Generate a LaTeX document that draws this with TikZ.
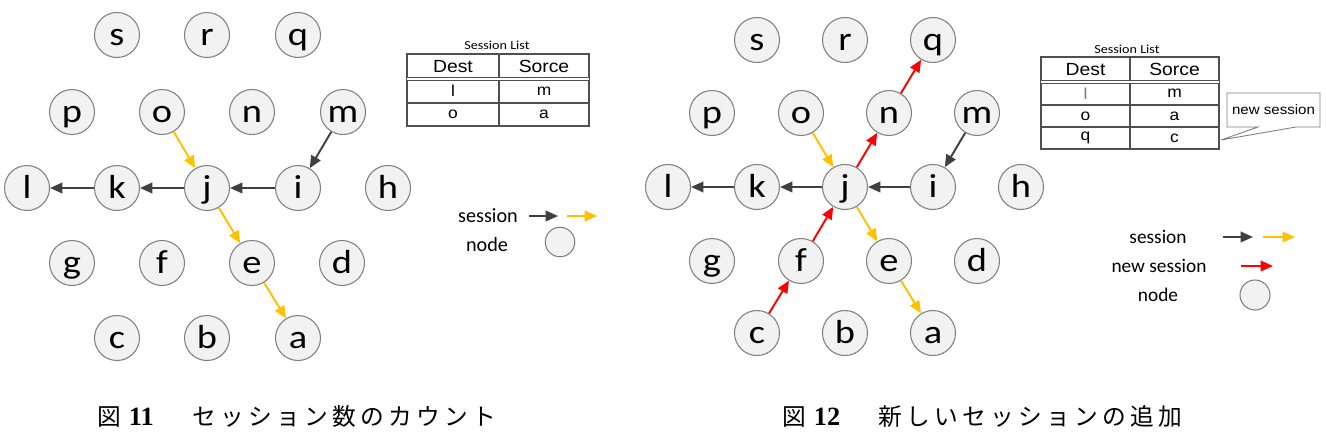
\documentclass[tikz,border=0pt]{standalone}
\usepackage{fontspec}
\usepackage{xcolor}
\usepackage{tikz}
\usetikzlibrary{arrows.meta}
\newfontfamily\nodefont[FakeStretch=1.15]{Carlito}
\newfontfamily\keyfont{Carlito}
\newfontfamily\tabfont[FakeStretch=1.1]{Liberation Sans}
\newfontfamily\capfont[LetterSpace=18]{Noto Sans CJK JP}
\newfontfamily\numfont{Liberation Serif}
\definecolor{sesgray}{HTML}{404040}
\definecolor{sesgold}{HTML}{FFC000}
\definecolor{newred}{HTML}{FF0000}
\definecolor{nodefill}{HTML}{F2F2F2}
\definecolor{nodeline}{HTML}{7F7F7F}
\definecolor{tabline}{HTML}{505050}
\definecolor{rowblue}{HTML}{5B7FA6}
\tikzset{
  pnode/.style={circle, draw=nodeline, fill=nodefill, line width=0.6pt,
    minimum size=0.9cm, inner sep=0pt, text height=14pt, text depth=2.4pt,
    font=\nodefont\fontsize{19}{21}\selectfont},
  keynode/.style={circle, draw=nodeline, fill=nodefill, line width=0.6pt,
    minimum size=0.59cm, inner sep=0pt},
  sess/.style={-{Triangle[length=7pt,width=6pt]}, line width=1.1pt, draw=sesgray},
  oldsess/.style={sess, draw=sesgold},
  newsess/.style={sess, draw=newred},
  tab/.style={draw=tabline, line width=0.6pt},
  cell/.style={inner sep=0pt, font=\tabfont\fontsize{9}{10}\selectfont},
  head/.style={cell, font=\tabfont\fontsize{10}{11}\selectfont},
  title/.style={inner sep=0pt, font=\nodefont\fontsize{7}{8}\selectfont},
  keytext/.style={inner sep=0pt, font=\keyfont\fontsize{11.5}{13}\selectfont},
  capnode/.style={inner sep=0pt, anchor=west, font=\capfont\fontsize{13.5}{16}\selectfont}
}
\begin{document}
\begin{tikzpicture}[x=0.02cm, y=-0.02cm]
  \useasboundingbox (0,0) rectangle (1326,434);
  % ---- Figure 11 ----
  \begin{scope}
    \node[pnode] (s1) at (117,35) {s};
    \node[pnode] (r1) at (207,35) {r};
    \node[pnode] (q1) at (298,35) {q};
    \node[pnode] (p1) at (72,112) {p};
    \node[pnode] (o1) at (162,112) {o};
    \node[pnode] (n1) at (252,112) {n};
    \node[pnode] (m1) at (343,112) {m};
    \node[pnode] (l1) at (27,188) {l};
    \node[pnode] (k1) at (117,188) {k};
    \node[pnode] (j1) at (207,188) {j};
    \node[pnode] (i1) at (298,188) {i};
    \node[pnode] (h1) at (388,188) {h};
    \node[pnode] (g1) at (72,263) {g};
    \node[pnode] (f1) at (162,263) {f};
    \node[pnode] (e1) at (252,263) {e};
    \node[pnode] (d1) at (342,263) {d};
    \node[pnode] (c1) at (117,338) {c};
    \node[pnode] (b1) at (207,338) {b};
    \node[pnode] (a1) at (298,338) {a};
    % sessions
    \draw[sess] (m1) -- (i1);
    \draw[sess] (i1) -- (j1);
    \draw[sess] (j1) -- (k1);
    \draw[sess] (k1) -- (l1);
    \draw[oldsess] (o1) -- (j1);
    \draw[oldsess] (j1) -- (e1);
    \draw[oldsess] (e1) -- (a1);
    % session list
    \node[title] (list1) at (497,45) {Session List};
    \draw[tab] (407,54) rectangle (589,126);
    \draw[tab] (499,54) -- (499,126);
    \draw[tab] (407,103) -- (589,103);
    \draw[tab, line width=0.8pt, double, double distance=1pt] (407,79) -- (589,79);
    \node[head] (dest1) at (453,66.5) {Dest};
    \node[head] (sorce1) at (544,66.5) {Sorce};
    \node[cell] (d11) at (453,91) {l};
    \node[cell] (s11) at (544,91) {m};
    \node[cell] (d12) at (453,114.5) {o};
    \node[cell] (s12) at (544,114.5) {a};
    % legend
    \node[keytext] (seskey1) at (488,216) {session};
    \coordinate (ka1) at (529,216);
    \coordinate (kb1) at (558,216);
    \coordinate (kc1) at (567,216);
    \coordinate (kd1) at (597,216);
    \draw[sess] (ka1) -- (kb1);
    \draw[oldsess] (kc1) -- (kd1);
    \node[keytext] (nodekey1) at (487,245) {node};
    \node[keynode] (keycirc1) at (560,242) {};
    \node[capnode] (cap1) at (97,416) {図\hspace{4.5pt}{\numfont\bfseries\fontsize{15}{16}\selectfont 11}\hspace{22pt}セッション数のカウント};
  \end{scope}
  % ---- Figure 12 ----
  \begin{scope}
    \node[pnode] (s2) at (757,40) {s};
    \node[pnode] (r2) at (845,40) {r};
    \node[pnode] (q2) at (933,40) {q};
    \node[pnode] (p2) at (712,113) {p};
    \node[pnode] (o2) at (801,113) {o};
    \node[pnode] (n2) at (889,113) {n};
    \node[pnode] (m2) at (977,113) {m};
    \node[pnode] (l2) at (668,187) {l};
    \node[pnode] (k2) at (757,187) {k};
    \node[pnode] (j2) at (845,187) {j};
    \node[pnode] (i2) at (933,187) {i};
    \node[pnode] (h2) at (1021,187) {h};
    \node[pnode] (g2) at (712,261) {g};
    \node[pnode] (f2) at (801,261) {f};
    \node[pnode] (e2) at (889,261) {e};
    \node[pnode] (d2) at (977,261) {d};
    \node[pnode] (c2) at (757,333) {c};
    \node[pnode] (b2) at (845,333) {b};
    \node[pnode] (a2) at (933,333) {a};
    % sessions
    \draw[sess] (m2) -- (i2);
    \draw[sess] (i2) -- (j2);
    \draw[sess] (j2) -- (k2);
    \draw[sess] (k2) -- (l2);
    \draw[oldsess] (o2) -- (j2);
    \draw[oldsess] (j2) -- (e2);
    \draw[oldsess] (e2) -- (a2);
    % new session c -> q
    \draw[newsess] (c2) -- (f2);
    \draw[newsess] (f2) -- (j2);
    \draw[newsess] (j2) -- (n2);
    \draw[newsess] (n2) -- (q2);
    % session list
    \node[title] (list2) at (1127,49) {Session List};
    \draw[tab] (1041,57) rectangle (1219,149);
    \draw[tab] (1130,57) -- (1130,149);
    \draw[tab] (1041,105) -- (1219,105);
    \draw[tab] (1041,127) -- (1219,127);
    \draw[tab, line width=0.8pt, double, double distance=1pt] (1041,82) -- (1219,82);
    \node[head] (dest2) at (1085.5,69.5) {Dest};
    \node[head] (sorce2) at (1174.5,69.5) {Sorce};
    \node[cell, text=rowblue] (d21) at (1085.5,93.5) {l};
    \node[cell] (s21) at (1174.5,93.5) {m};
    \node[cell] (d22) at (1085.5,116) {o};
    \node[cell] (s22) at (1174.5,116) {a};
    \node[cell] (d23) at (1085.5,138) {q};
    \node[cell] (s23) at (1174.5,138) {c};
    % callout
    \draw[draw=nodeline, line width=0.5pt, fill=white]
      (1227,93) -- (1320,93) -- (1320,127) -- (1296,127) -- (1221,140)
      -- (1258,127) -- (1227,127) -- cycle;
    \node[cell, font=\tabfont\fontsize{7.8}{9}\selectfont] (newtag) at (1273.5,110) {new session};
    % legend
    \node[keytext, font=\keyfont\fontsize{11}{13}\selectfont] (seskey2) at (1158,237) {session};
    \coordinate (ka2) at (1223,237);
    \coordinate (kb2) at (1253,237);
    \coordinate (kc2) at (1263,237);
    \coordinate (kd2) at (1295,237);
    \draw[sess] (ka2) -- (kb2);
    \draw[oldsess] (kc2) -- (kd2);
    \node[keytext, font=\keyfont\fontsize{11}{13}\selectfont] (newkey2) at (1159,266) {new session};
    \coordinate (ke2) at (1241,266);
    \coordinate (kf2) at (1273,266);
    \draw[newsess] (ke2) -- (kf2);
    \node[keytext, font=\keyfont\fontsize{11}{13}\selectfont] (nodekey2) at (1158,295) {node};
    \node[keynode, minimum size=0.6cm] (keycirc2) at (1255,295) {};
    \node[capnode] (cap2) at (782,416) {図\hspace{4.5pt}{\numfont\bfseries\fontsize{15}{16}\selectfont 12}\hspace{22pt}新しいセッションの追加};
  \end{scope}
\end{tikzpicture}
\end{document}
